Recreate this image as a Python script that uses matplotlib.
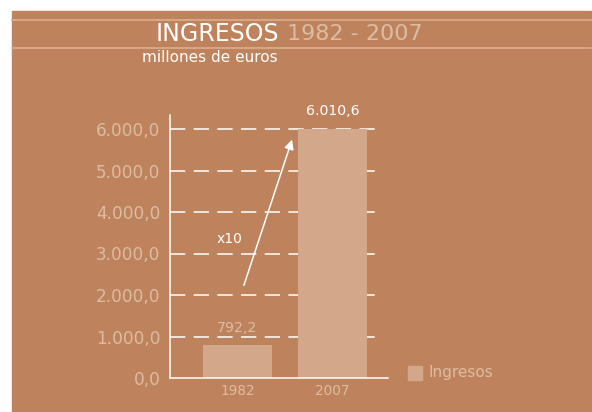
import matplotlib.pyplot as plt
from matplotlib.patches import Rectangle

years = ['1982', '2007']
ingresos = [792.2, 6010.6]
value_labels = ['792,2', '6.010,6']
yticks = [0, 1000, 2000, 3000, 4000, 5000, 6000]
ytick_labels = ['0,0', '1.000,0', '2.000,0', '3.000,0', '4.000,0', '5.000,0', '6.000,0']

brown = '#be835c'
bar_col = '#d2a78a'
light = '#dcbca3'

plt.rcParams['font.family'] = ['DejaVu Sans']

fig = plt.figure(figsize=(5.92, 4.12), dpi=100, facecolor='white')
fig.patches.append(Rectangle((12 / 592, 0), 579 / 592, 401 / 412,
                             transform=fig.transFigure, color=brown, zorder=-10))
# title lines
for yy in [20, 48]:
    fig.add_artist(plt.Line2D([12 / 592, 591 / 592], [1 - yy / 412] * 2,
                              transform=fig.transFigure, color='#dcae8e', lw=1.2))
fig.text(156 / 592, 1 - 34 / 412, 'INGRESOS', color='white', fontsize=17,
         ha='left', va='center')
fig.text(287 / 592, 1 - 34 / 412, '1982 - 2007', color=light, fontsize=16,
         ha='left', va='center')
fig.text(142 / 592, 1 - 57 / 412, 'millones de euros', color='white', fontsize=11,
         ha='left', va='center')

# axes: left=170px, right=388px, bottom=378px, top=115px
ax = fig.add_axes([170 / 592, 1 - 378 / 412, 218 / 592, 263 / 412])
ax.set_facecolor('none')
x = [0, 1]
ax.set_xlim(-0.71, 1.584)
ax.set_ylim(0, 263 / 249 * 6000)

for t in yticks[1:]:
    ax.plot([-0.71, 1.53], [t, t], color='white', lw=1.1, dashes=(10, 5.5), zorder=1)

ax.bar(x, ingresos, width=0.726, color=bar_col, zorder=2)

for i in range(2):
    ax.text(x[i], ingresos[i] + 250, value_labels[i],
            color='white' if i == 1 else light, fontsize=10.2, ha='center', va='bottom')

ax.annotate('', xy=(0.584, 5807), xytext=(0.058, 2169),
            arrowprops=dict(arrowstyle='-|>', color='white', lw=1.1,
                            mutation_scale=14), zorder=3)
ax.text(-0.08, 3349, 'x10', color='white', fontsize=10, ha='center', va='center')

for s in ['top', 'right']:
    ax.spines[s].set_visible(False)
ax.spines['left'].set_color('white')
ax.spines['bottom'].set_color('white')
ax.spines['left'].set_linewidth(1.1)
ax.spines['bottom'].set_linewidth(1.1)
ax.set_yticks(yticks)
ax.set_yticklabels(ytick_labels, color=light, fontsize=12.2)
ax.set_xticks(x)
ax.set_xticklabels(years, color=light, fontsize=9.8)
ax.tick_params(length=0, pad=7, axis='y')
ax.tick_params(length=0, pad=4, axis='x')

# legend
fig.patches.append(Rectangle((408 / 592, 1 - 380 / 412), 14 / 592, 14 / 412,
                             transform=fig.transFigure, color=bar_col))
fig.text(429 / 592, 1 - 373 / 412, 'Ingresos', color=light, fontsize=11,
         ha='left', va='center')

fig.savefig('out.png', dpi=100, facecolor='white')
